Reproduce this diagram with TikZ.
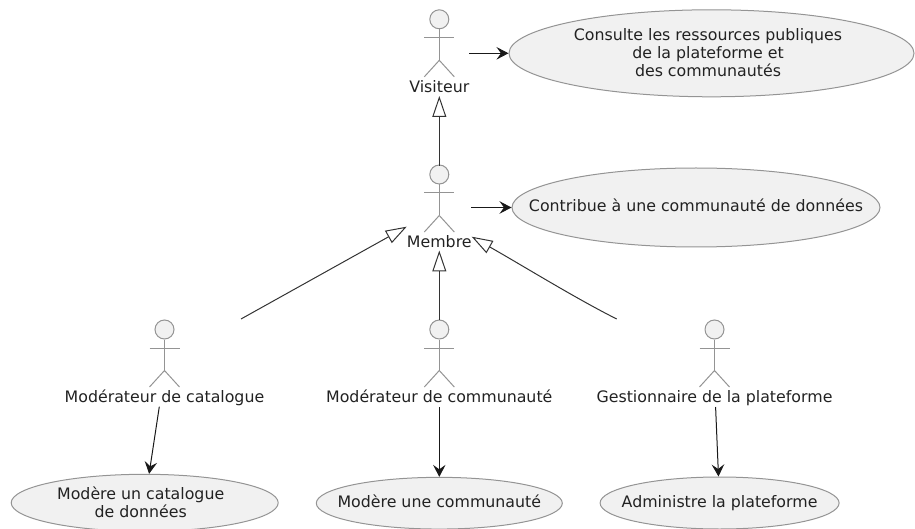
\documentclass[tikz,border=0pt]{standalone}
\usepackage{fontspec}
\setmainfont{DejaVu Sans}
\usetikzlibrary{arrows.meta,shapes.geometric}
\definecolor{fillc}{HTML}{F1F1F1}
\definecolor{linec}{HTML}{949494}
\definecolor{textc}{HTML}{222222}
\tikzset{
 x=1pt,y=-1pt,
 txt/.style={font=\fontsize{15.8}{18.3}\selectfont,text=textc,inner sep=0pt,align=center},
 uc/.style={ellipse,draw=linec,fill=fillc,line width=1pt,inner sep=0pt},
 stick/.style={draw=linec,line width=1pt},
 head/.style={circle,draw=linec,fill=fillc,line width=1pt,minimum size=19pt,inner sep=0pt},
 dep/.style={draw=black!90,line width=1pt,-{Stealth[length=12pt,width=12.5pt,inset=4.5pt]}},
 ext/.style={draw=black!80,line width=1pt,-{Triangle[open,length=21pt,width=14pt,line width=1pt]}},
}
\newcommand{\actor}[4]{% name,x,y(head centre),label
 \node[head] (#1h) at (#2,#3) {};
 \draw[stick] (#1h.south) -- ++(0,31) coordinate (#1c) ++(-15,-22.5) -- ++(30,0);
 \draw[stick] (#1c) -- ++(-15,16.5) (#1c) -- ++(15,16.5);
 \node[txt,anchor=base] (#1) at (#2,#3+73) {#4};
}
\begin{document}
\begin{tikzpicture}
\useasboundingbox (0,0) rectangle (915,529);
\clip (0,0) rectangle (915,529);
\actor{vis}{439.3}{19.3}{Visiteur}
\actor{mem}{439.3}{174.5}{Membre}
\actor{cat}{164.5}{329.5}{Modérateur de catalogue}
\actor{com}{439.3}{329.5}{Modérateur de communauté}
\actor{ges}{714.5}{329.5}{Gestionnaire de la plateforme}
\node[uc,minimum width=405pt,minimum height=87pt,label={[txt,xshift=-3.5pt,yshift=.7pt]center:Consulte les ressources publiques\\de la plateforme et\\des communautés}] (u1) at (711.5,53.3) {};
\node[uc,minimum width=368pt,minimum height=79pt,label={[txt,yshift=2.5pt]center:Contribue à une communauté de données}] (u2) at (696,207.5) {};
\node[uc,minimum width=267pt,minimum height=57pt,label={[txt,xshift=-4pt,yshift=.5pt]center:Modère un catalogue\\de données}] (u3) at (144.7,502.8) {};
\node[uc,minimum width=246pt,minimum height=51.7pt,label={[txt,yshift=1.5pt]center:Modère une communauté}] (u4) at (439.3,503.2) {};
\node[uc,minimum width=239pt,minimum height=52pt,label={[txt]center:Administre la plateforme}] (u5) at (719.6,503) {};
\coordinate (a1) at (469.3,53.3);
\coordinate (a2) at (471,207.5);
\coordinate (a3) at (159.3,406.7);
\coordinate (a4) at (439.3,407);
\coordinate (a5) at (715.6,407);
\coordinate (e1) at (439.3,166);
\coordinate (e2) at (439.3,96);
\coordinate (e3) at (241,319);
\coordinate (e4) at (406.7,226.7);
\coordinate (e5) at (439.3,320);
\coordinate (e6) at (439.3,250.5);
\coordinate (e7) at (616.7,319);
\coordinate (e8) at (471.7,236.7);
\draw[dep] (a1) -- (u1);
\draw[dep] (a2) -- (u2);
\draw[dep] (a3) -- (u3);
\draw[dep] (a4) -- (u4);
\draw[dep] (a5) -- (u5);
\draw[ext] (e1) -- (e2);
\draw[ext] (e3) -- (e4);
\draw[ext] (e5) -- (e6);
\draw[ext] (e7) .. controls (575,298) and (525,267) .. (e8);
\end{tikzpicture}
\end{document}
